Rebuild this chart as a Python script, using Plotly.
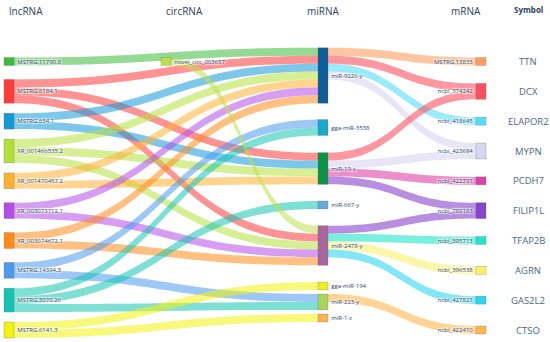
import plotly.graph_objects as go
import numpy as np

# ---------------- data ----------------
lncrna = ["MSTRG.11790.8", "MSTRG.6184.1", "MSTRG.634.1", "XR_001466535.2",
          "XR_001470457.2", "XR_003073712.1", "XR_003074672.1", "MSTRG.14394.3",
          "MSTRG.5070.26", "MSTRG.6141.3"]
circrna = ["novel_circ_003657"]
mirna = ["miR-9226-y", "gga-miR-3538", "miR-19-x", "miR-667-y",
         "miR-2478-y", "gga-miR-194", "miR-223-y", "miR-1-z"]
mrna = ["MSTRG.13833", "ncbi_374242", "ncbi_418645", "ncbi_423684", "ncbi_422797",
        "ncbi_789163", "ncbi_395713", "ncbi_396538", "ncbi_427821", "ncbi_422410"]
symbols = ["TTN", "DCX", "ELAPOR2", "MYPN", "PCDH7",
           "FILIP1L", "TFAP2B", "AGRN", "GAS2L2", "CTSO"]
column_titles = ["lncRNA", "circRNA", "miRNA", "mRNA"]
symbol_title = "Symbol"

# (source, target, value)
ce_to_mirna = [
    ("MSTRG.11790.8", "miR-9226-y", 1),
    ("MSTRG.6184.1", "miR-9226-y", 1),
    ("MSTRG.6184.1", "miR-19-x", 1),
    ("MSTRG.6184.1", "miR-2478-y", 1),
    ("MSTRG.634.1", "miR-9226-y", 1),
    ("MSTRG.634.1", "miR-19-x", 1),
    ("XR_001466535.2", "miR-9226-y", 1),
    ("XR_001466535.2", "miR-19-x", 1),
    ("XR_001466535.2", "miR-2478-y", 1),
    ("XR_001470457.2", "miR-9226-y", 1),
    ("XR_001470457.2", "miR-19-x", 1),
    ("XR_003073712.1", "miR-9226-y", 1),
    ("XR_003073712.1", "miR-2478-y", 1),
    ("XR_003074672.1", "miR-9226-y", 1),
    ("XR_003074672.1", "miR-2478-y", 1),
    ("MSTRG.14394.3", "gga-miR-3538", 1),
    ("MSTRG.14394.3", "miR-223-y", 1),
    ("MSTRG.5070.26", "gga-miR-3538", 1),
    ("MSTRG.5070.26", "miR-667-y", 1),
    ("MSTRG.5070.26", "miR-223-y", 1),
    ("MSTRG.6141.3", "gga-miR-194", 1),
    ("MSTRG.6141.3", "miR-1-z", 1),
    ("novel_circ_003657", "miR-2478-y", 1),
]
mirna_to_mrna = [
    ("miR-9226-y", "MSTRG.13833", 1),
    ("miR-9226-y", "ncbi_374242", 1),
    ("miR-9226-y", "ncbi_418645", 1),
    ("miR-9226-y", "ncbi_423684", 1),
    ("miR-19-x", "ncbi_374242", 1),
    ("miR-19-x", "ncbi_423684", 1),
    ("miR-19-x", "ncbi_422797", 1),
    ("miR-19-x", "ncbi_789163", 1),
    ("miR-2478-y", "ncbi_789163", 1),
    ("miR-2478-y", "ncbi_395713", 1),
    ("miR-2478-y", "ncbi_396538", 1),
    ("miR-2478-y", "ncbi_427821", 1),
    ("miR-223-y", "ncbi_422410", 1),
]

# ---------------- styles ----------------
lnc_colors = ["#3dbb3d", "#ff3b3b", "#139ad9", "#b4e03c", "#ffb133",
              "#b34ee8", "#ff8c1a", "#4d9aee", "#14c4b0", "#f2f20f"]
circ_colors = ["#bde04e"]
mirna_colors = ["#0d5e99", "#19a9cb", "#0a9448", "#66aadd",
                "#a8669e", "#eeee22", "#a9d55a", "#ffb24d"]
mrna_colors = ["#ff9e5e", "#ff5060", "#55ddf5", "#d8d6f0", "#dd44aa",
               "#8844cc", "#20e5cc", "#faf06b", "#2dd5ef", "#ffb84d"]

W, H = 550, 342
M_T, M_B = 28, 4
PH = H - M_T - M_B

# layout positions in window pixels
col_px = [9, 166, 323, 481]
title_px = [26, 184, 323, 466]
first_row_px, last_row_px = 61.5, 330
mirna_center_px = [75.5, 127.5, 168.5, 205, 245.5, 286, 302, 318]
symbol_x_px = 528


def hex_rgba(h, a):
    h = h.lstrip("#")
    return "rgba(%d,%d,%d,%.2f)" % (int(h[0:2], 16), int(h[2:4], 16), int(h[4:6], 16), a)


def fx(px):
    return px / W


def fy(py):
    return (py - M_T) / PH


labels = lncrna + circrna + mirna + mrna
colors = lnc_colors + circ_colors + mirna_colors + mrna_colors
idx = {n: i for i, n in enumerate(labels)}

row_px = np.linspace(first_row_px, last_row_px, len(lncrna))
mrna_row_px = np.linspace(first_row_px, last_row_px, len(mrna))

xs = ([col_px[0]] * len(lncrna) + [col_px[1]] * len(circrna)
      + [col_px[2]] * len(mirna) + [col_px[3]] * len(mrna))
ys = list(row_px) + [first_row_px] + mirna_center_px + list(mrna_row_px)
node_x = [fx(x) for x in xs]
node_y = [fy(y) for y in ys]

src, tgt, val, lcol = [], [], [], []
for s, t, v in ce_to_mirna:
    src.append(idx[s]); tgt.append(idx[t]); val.append(v)
    lcol.append(hex_rgba(colors[idx[s]], 0.55))
for s, t, v in mirna_to_mrna:
    src.append(idx[s]); tgt.append(idx[t]); val.append(v)
    lcol.append(hex_rgba(colors[idx[t]], 0.6))

fig = go.Figure(go.Sankey(
    arrangement="fixed",
    domain=dict(x=[0, 1], y=[0, 1]),
    node=dict(label=labels, x=node_x, y=node_y, color=colors,
              pad=12.8, thickness=10,
              line=dict(color="rgba(90,90,90,0.5)", width=0.5)),
    link=dict(source=src, target=tgt, value=val, color=lcol),
    textfont=dict(size=6, color="#2a3f5f", family="Open Sans"),
))


def py2paper(py):
    return 1 - fy(py)


ann = []
for t, x in zip(column_titles, title_px):
    ann.append(dict(text=t, x=fx(x), y=py2paper(11), xref="paper", yref="paper",
                    showarrow=False, xanchor="center", yanchor="middle",
                    font=dict(size=10, color="#2a3f5f", family="Open Sans")))
ann.append(dict(text="<b>%s</b>" % symbol_title, x=fx(symbol_x_px), y=py2paper(9),
                xref="paper", yref="paper", showarrow=False,
                xanchor="center", yanchor="middle",
                font=dict(size=8, color="#2a3f5f", family="Open Sans")))
for s, y in zip(symbols, mrna_row_px):
    ann.append(dict(text=s, x=fx(symbol_x_px), y=py2paper(y), xref="paper", yref="paper",
                    showarrow=False, xanchor="center", yanchor="middle",
                    font=dict(size=9.5, color="#506784", family="Open Sans")))

fig.update_layout(width=W, height=H, margin=dict(l=0, r=0, t=M_T, b=M_B),
                  paper_bgcolor="white", plot_bgcolor="white",
                  annotations=ann, font=dict(family="Open Sans"))
fig.write_html("out.html", config={"displayModeBar": False},
               post_script="document.body.style.margin='0';")
